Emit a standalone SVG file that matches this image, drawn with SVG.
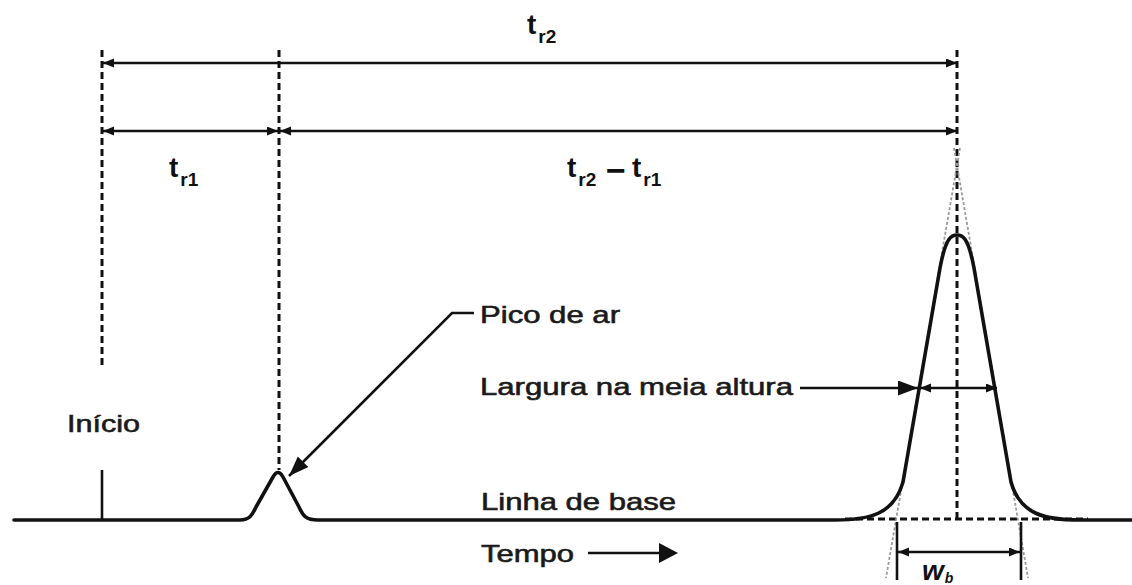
<svg xmlns="http://www.w3.org/2000/svg" width="1132" height="585" viewBox="0 0 1132 585">
<style>
.bg{fill:#fff}
.lbl{font-family:"Liberation Sans",Arial,sans-serif;font-size:24px;fill:#1a1a1a;stroke:#1a1a1a;stroke-width:0.6}
.t{font-family:"Liberation Sans",Arial,sans-serif;font-weight:bold;font-size:28px;fill:#111}
.sub{font-size:19px}
.dash{stroke:#111;stroke-width:3;stroke-dasharray:7 4;fill:none}
.dim{stroke:#111;stroke-width:2.6;fill:none}
.head{fill:#111}
.curve{stroke:#111;stroke-width:3.6;fill:none;stroke-linejoin:round;stroke-linecap:round}
.tan{stroke:#9a9a9a;stroke-width:1.8;stroke-dasharray:3 2;fill:none}
</style>
<defs>
<marker id="ah" markerUnits="userSpaceOnUse" markerWidth="12" markerHeight="10" refX="11" refY="4.5" orient="auto-start-reverse"><path d="M0,0 L11,4.5 L0,9 z" fill="#111"/></marker>
<marker id="ahBig" markerUnits="userSpaceOnUse" markerWidth="22" markerHeight="16" refX="20" refY="7.5" orient="auto-start-reverse"><path d="M0,0 L20,7.5 L0,15 z" fill="#111"/></marker>
</defs>
<rect class="bg" x="0" y="0" width="1132" height="585"/>

<g id="connectors">
  <line class="dash" x1="102" y1="50" x2="102" y2="365"/>
  <line class="dash" x1="279" y1="50" x2="279" y2="470"/>
  <line class="dash" x1="957" y1="50" x2="957" y2="519"/>
  <line class="dash" x1="845" y1="519" x2="1088" y2="519"/>
  <line class="tan" x1="960" y1="148" x2="886" y2="578"/>
  <line class="tan" x1="954" y1="148" x2="1028" y2="578"/>
  <line class="dim" x1="103" y1="63" x2="957" y2="63" marker-start="url(#ah)" marker-end="url(#ah)"/>
  <line class="dim" x1="103" y1="131" x2="278" y2="131" marker-start="url(#ah)" marker-end="url(#ah)"/>
  <line class="dim" x1="280" y1="131" x2="957" y2="131" marker-start="url(#ah)" marker-end="url(#ah)"/>
  <line class="dim" x1="800" y1="388" x2="918" y2="388" marker-end="url(#ahBig)"/>
  <line class="dim" x1="920" y1="388" x2="997" y2="388" marker-start="url(#ah)" marker-end="url(#ah)"/>
  <line class="dim" x1="897" y1="522" x2="897" y2="580"/>
  <line class="dim" x1="1021" y1="522" x2="1021" y2="580"/>
  <line class="dim" x1="898" y1="552" x2="1020" y2="552" marker-start="url(#ah)" marker-end="url(#ah)"/>
  <polyline class="dim" points="474,313 452,313 289,476" marker-end="url(#ahBig)"/>
  <line class="dim" x1="588" y1="553" x2="664" y2="553"/>
  <polygon class="head" points="659,543 678,553 659,563"/>
  <line class="dim" x1="102" y1="470" x2="102" y2="520"/>
</g>

<g id="chromatogram">
  <path class="curve" d="M14,520 L240,520 C250,520 252,515 256,507 L273,477 Q278,468 283,477 L299,507 C303,516 306,520 318,520 L835,520 C870,520 894,514 903,482 L940,268 C946,236 952,235 957,235 C962,235 968,236 974,268 L1011,482 C1020,514 1044,520 1080,520 L1132,520"/>
</g>

<g id="label-tr2">
  <text class="t" x="527" y="34">t<tspan class="sub" dx="2" dy="9">r2</tspan></text>
</g>
<g id="label-tr1">
  <text class="t" x="169" y="177">t<tspan class="sub" dx="2" dy="9">r1</tspan></text>
</g>
<g id="label-diff">
  <text class="t" x="567" y="177">t<tspan class="sub" dx="2" dy="9">r2</tspan><tspan x="606" y="182" font-size="34">−</tspan><tspan x="632" y="177">t</tspan><tspan class="sub" dx="2" dy="9">r1</tspan></text>
</g>
<g id="label-inicio">
  <text class="lbl" x="67" y="432" textLength="73" lengthAdjust="spacingAndGlyphs">Início</text>
</g>
<g id="label-pico">
  <text class="lbl" x="480" y="323" textLength="140" lengthAdjust="spacingAndGlyphs">Pico de ar</text>
</g>
<g id="label-largura">
  <text class="lbl" x="480" y="395" textLength="313" lengthAdjust="spacingAndGlyphs">Largura na meia altura</text>
</g>
<g id="label-linha">
  <text class="lbl" x="481" y="510" textLength="195" lengthAdjust="spacingAndGlyphs">Linha de base</text>
</g>
<g id="label-tempo">
  <text class="lbl" x="481" y="562" textLength="93" lengthAdjust="spacingAndGlyphs">Tempo</text>
</g>
<g id="label-wb">
  <text class="t" x="922" y="580" font-style="italic" font-size="20">w<tspan font-size="14" dx="1" dy="3">b</tspan></text>
</g>
</svg>
